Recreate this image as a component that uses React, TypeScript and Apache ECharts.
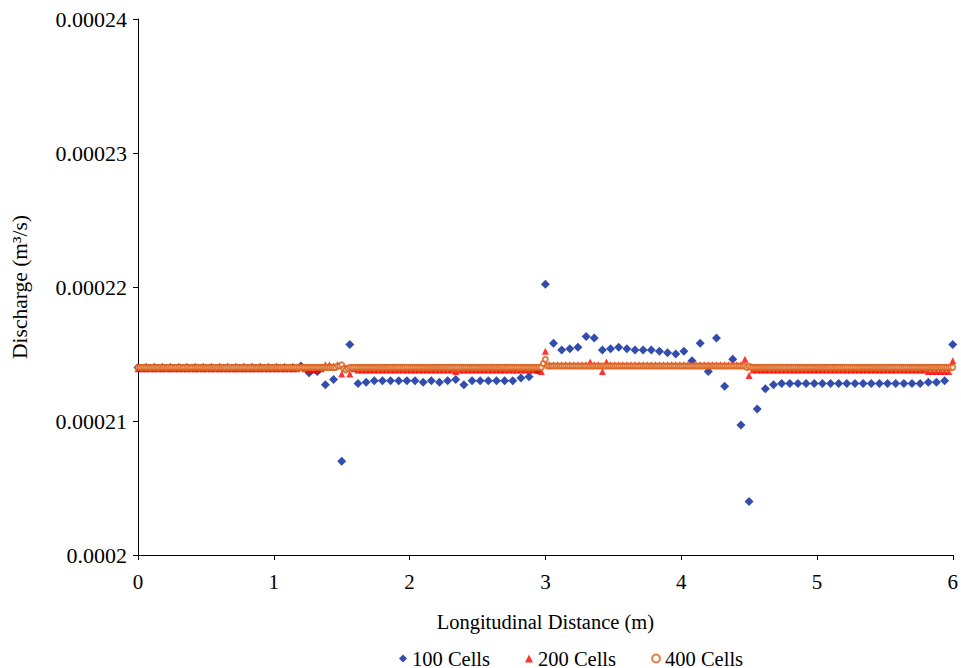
import React, { useEffect, useRef } from "react";
import * as echarts from "echarts";

// Channel length (m) and axis ranges
const channelLength = 6;
const xMin = 0;
const xMax = 6;
const xStep = 1;
const yMin = 0.0002;
const yMax = 0.00024;
const yStep = 0.00001;

const seriesNames = ["100 Cells", "200 Cells", "400 Cells"];
const seriesColors = ["#00209a", "#ff0000", "#d9621a"];

// Discharge (m3/s) at each node, 100-cell mesh (101 nodes)
const cells100: number[] = [
  0.000214, 0.000214, 0.000214, 0.000214, 0.000214, 0.000214, 0.000214, 0.000214, 0.000214, 0.000214,
  0.000214, 0.000214, 0.000214, 0.000214, 0.000214, 0.000214, 0.000214, 0.000214, 0.000214, 0.000214,
  0.0002141, 0.0002136, 0.0002137, 0.0002127, 0.0002131, 0.000207, 0.0002157, 0.0002128, 0.0002129, 0.000213,
  0.000213, 0.000213, 0.000213, 0.000213, 0.000213, 0.0002129, 0.000213, 0.0002129, 0.000213, 0.0002131,
  0.0002127, 0.000213, 0.000213, 0.000213, 0.000213, 0.000213, 0.000213, 0.0002132, 0.0002133, 0.0002138,
  0.0002202, 0.0002158, 0.0002153, 0.0002154, 0.0002155, 0.0002163, 0.0002162, 0.0002153, 0.0002154, 0.0002155,
  0.0002154, 0.0002153, 0.0002153, 0.0002153, 0.0002152, 0.0002151, 0.000215, 0.0002152, 0.0002145, 0.0002158,
  0.0002137, 0.0002162, 0.0002126, 0.0002146, 0.0002097, 0.000204, 0.0002109, 0.0002124, 0.0002127, 0.0002128,
  0.0002128, 0.0002128, 0.0002128, 0.0002128, 0.0002128, 0.0002128, 0.0002128, 0.0002128, 0.0002128, 0.0002128,
  0.0002128, 0.0002128, 0.0002128, 0.0002128, 0.0002128, 0.0002128, 0.0002128, 0.0002129, 0.0002129, 0.000213,
  0.0002157,
];

// 200-cell mesh (201 nodes)
const cells200: number[] = [
  0.0002139, 0.0002139, 0.0002139, 0.0002139, 0.0002139, 0.0002139, 0.0002139, 0.0002139, 0.0002139, 0.0002139,
  0.0002139, 0.0002139, 0.0002139, 0.0002139, 0.0002139, 0.0002139, 0.0002139, 0.0002139, 0.0002139, 0.0002139,
  0.0002139, 0.0002139, 0.0002139, 0.0002139, 0.0002139, 0.0002139, 0.0002139, 0.0002139, 0.0002139, 0.0002139,
  0.0002139, 0.0002139, 0.0002139, 0.0002139, 0.0002139, 0.0002139, 0.0002139, 0.0002139, 0.0002139, 0.0002139,
  0.000214, 0.0002139, 0.0002138, 0.0002138, 0.0002138, 0.0002139, 0.0002142, 0.0002142, 0.0002141, 0.0002142,
  0.0002135, 0.000214, 0.0002135, 0.0002139, 0.0002138, 0.0002138, 0.0002138, 0.0002138, 0.0002138, 0.0002138,
  0.0002138, 0.0002138, 0.0002138, 0.0002138, 0.0002138, 0.0002138, 0.0002138, 0.0002138, 0.0002138, 0.0002138,
  0.0002138, 0.0002138, 0.0002138, 0.0002138, 0.0002138, 0.0002138, 0.0002138, 0.0002138, 0.0002137, 0.0002138,
  0.0002138, 0.0002138, 0.0002138, 0.0002138, 0.0002138, 0.0002138, 0.0002138, 0.0002138, 0.0002138, 0.0002138,
  0.0002138, 0.0002138, 0.0002138, 0.0002138, 0.0002138, 0.0002138, 0.0002138, 0.0002138, 0.0002138, 0.0002137,
  0.0002152, 0.0002142, 0.0002142, 0.0002142, 0.0002142, 0.0002142, 0.0002142, 0.0002142, 0.0002142, 0.0002142,
  0.0002142, 0.0002144, 0.0002142, 0.0002142, 0.0002137, 0.0002144, 0.0002142, 0.0002142, 0.0002142, 0.0002142,
  0.0002142, 0.0002142, 0.0002142, 0.0002142, 0.0002142, 0.0002142, 0.0002142, 0.0002142, 0.0002142, 0.0002142,
  0.0002142, 0.0002142, 0.0002142, 0.0002142, 0.0002142, 0.0002142, 0.0002142, 0.0002142, 0.0002142, 0.0002142,
  0.0002142, 0.0002142, 0.0002142, 0.0002142, 0.0002142, 0.0002142, 0.0002142, 0.0002142, 0.0002142, 0.0002146,
  0.0002134, 0.0002138, 0.0002138, 0.0002138, 0.0002138, 0.0002138, 0.0002138, 0.0002138, 0.0002138, 0.0002138,
  0.0002138, 0.0002138, 0.0002138, 0.0002138, 0.0002138, 0.0002138, 0.0002138, 0.0002138, 0.0002138, 0.0002138,
  0.0002138, 0.0002138, 0.0002138, 0.0002138, 0.0002138, 0.0002138, 0.0002138, 0.0002138, 0.0002138, 0.0002138,
  0.0002138, 0.0002138, 0.0002138, 0.0002138, 0.0002138, 0.0002138, 0.0002138, 0.0002138, 0.0002138, 0.0002138,
  0.0002138, 0.0002138, 0.0002138, 0.0002138, 0.0002137, 0.0002137, 0.0002137, 0.0002137, 0.0002137, 0.0002137,
  0.0002145,
];

// 400-cell mesh (401 nodes)
const cells400: number[] = [
  0.000214, 0.000214, 0.000214, 0.000214, 0.000214, 0.000214, 0.000214, 0.000214, 0.000214, 0.000214,
  0.000214, 0.000214, 0.000214, 0.000214, 0.000214, 0.000214, 0.000214, 0.000214, 0.000214, 0.000214,
  0.000214, 0.000214, 0.000214, 0.000214, 0.000214, 0.000214, 0.000214, 0.000214, 0.000214, 0.000214,
  0.000214, 0.000214, 0.000214, 0.000214, 0.000214, 0.000214, 0.000214, 0.000214, 0.000214, 0.000214,
  0.000214, 0.000214, 0.000214, 0.000214, 0.000214, 0.000214, 0.000214, 0.000214, 0.000214, 0.000214,
  0.000214, 0.000214, 0.000214, 0.000214, 0.000214, 0.000214, 0.000214, 0.000214, 0.000214, 0.000214,
  0.000214, 0.000214, 0.000214, 0.000214, 0.000214, 0.000214, 0.000214, 0.000214, 0.000214, 0.000214,
  0.000214, 0.000214, 0.000214, 0.000214, 0.000214, 0.000214, 0.000214, 0.000214, 0.000214, 0.000214,
  0.000214, 0.000214, 0.000214, 0.000214, 0.000214, 0.000214, 0.000214, 0.000214, 0.000214, 0.000214,
  0.000214, 0.000214, 0.000214, 0.000214, 0.000214, 0.000214, 0.000214, 0.000214, 0.0002141, 0.0002141,
  0.0002142, 0.0002139, 0.0002138, 0.0002139, 0.000214, 0.000214, 0.000214, 0.000214, 0.000214, 0.000214,
  0.000214, 0.000214, 0.000214, 0.000214, 0.000214, 0.000214, 0.000214, 0.000214, 0.000214, 0.000214,
  0.000214, 0.000214, 0.000214, 0.000214, 0.000214, 0.000214, 0.000214, 0.000214, 0.000214, 0.000214,
  0.000214, 0.000214, 0.000214, 0.000214, 0.000214, 0.000214, 0.000214, 0.000214, 0.000214, 0.000214,
  0.000214, 0.000214, 0.000214, 0.000214, 0.000214, 0.000214, 0.000214, 0.000214, 0.000214, 0.000214,
  0.000214, 0.000214, 0.000214, 0.000214, 0.000214, 0.000214, 0.000214, 0.000214, 0.000214, 0.000214,
  0.000214, 0.000214, 0.000214, 0.000214, 0.000214, 0.000214, 0.000214, 0.000214, 0.000214, 0.000214,
  0.000214, 0.000214, 0.000214, 0.000214, 0.000214, 0.000214, 0.000214, 0.000214, 0.000214, 0.000214,
  0.000214, 0.000214, 0.000214, 0.000214, 0.000214, 0.000214, 0.000214, 0.000214, 0.000214, 0.000214,
  0.000214, 0.000214, 0.000214, 0.000214, 0.000214, 0.000214, 0.000214, 0.000214, 0.000214, 0.0002143,
  0.0002146, 0.0002141, 0.0002141, 0.0002141, 0.0002141, 0.0002141, 0.0002141, 0.0002141, 0.0002141, 0.0002141,
  0.0002141, 0.0002141, 0.0002141, 0.0002141, 0.0002141, 0.0002141, 0.0002141, 0.0002141, 0.0002141, 0.0002141,
  0.0002141, 0.0002141, 0.0002141, 0.0002141, 0.0002141, 0.0002141, 0.0002141, 0.0002141, 0.0002141, 0.0002141,
  0.0002141, 0.0002141, 0.0002141, 0.0002141, 0.0002141, 0.0002141, 0.0002141, 0.0002141, 0.0002141, 0.0002141,
  0.0002141, 0.0002141, 0.0002141, 0.0002141, 0.0002141, 0.0002141, 0.0002141, 0.0002141, 0.0002141, 0.0002141,
  0.0002141, 0.0002141, 0.0002141, 0.0002141, 0.0002141, 0.0002141, 0.0002141, 0.0002141, 0.0002141, 0.0002141,
  0.0002141, 0.0002141, 0.0002141, 0.0002141, 0.0002141, 0.0002141, 0.0002141, 0.0002141, 0.0002141, 0.0002141,
  0.0002141, 0.0002141, 0.0002141, 0.0002141, 0.0002141, 0.0002141, 0.0002141, 0.0002141, 0.0002141, 0.0002141,
  0.0002141, 0.0002141, 0.0002141, 0.0002141, 0.0002141, 0.0002141, 0.0002141, 0.0002141, 0.0002141, 0.0002141,
  0.0002141, 0.0002141, 0.0002141, 0.0002141, 0.0002141, 0.0002141, 0.0002141, 0.0002141, 0.0002141, 0.000214,
  0.0002141, 0.000214, 0.000214, 0.000214, 0.000214, 0.000214, 0.000214, 0.000214, 0.000214, 0.000214,
  0.000214, 0.000214, 0.000214, 0.000214, 0.000214, 0.000214, 0.000214, 0.000214, 0.000214, 0.000214,
  0.000214, 0.000214, 0.000214, 0.000214, 0.000214, 0.000214, 0.000214, 0.000214, 0.000214, 0.000214,
  0.000214, 0.000214, 0.000214, 0.000214, 0.000214, 0.000214, 0.000214, 0.000214, 0.000214, 0.000214,
  0.000214, 0.000214, 0.000214, 0.000214, 0.000214, 0.000214, 0.000214, 0.000214, 0.000214, 0.000214,
  0.000214, 0.000214, 0.000214, 0.000214, 0.000214, 0.000214, 0.000214, 0.000214, 0.000214, 0.000214,
  0.000214, 0.000214, 0.000214, 0.000214, 0.000214, 0.000214, 0.000214, 0.000214, 0.000214, 0.000214,
  0.000214, 0.000214, 0.000214, 0.000214, 0.000214, 0.000214, 0.000214, 0.000214, 0.000214, 0.000214,
  0.000214, 0.000214, 0.000214, 0.000214, 0.000214, 0.000214, 0.000214, 0.000214, 0.000214, 0.000214,
  0.000214, 0.000214, 0.000214, 0.000214, 0.000214, 0.000214, 0.000214, 0.000214, 0.000214, 0.000214,
  0.000214,
];

const FONT = "'Times New Roman', 'Liberation Serif', serif";

// Pair each discharge with its node position along the channel
const toPoints = (values: number[]) =>
  values.map((q, i) => [(i * channelLength) / (values.length - 1), q]);

export default function App() {
  const ref = useRef<HTMLDivElement>(null);

  useEffect(() => {
    if (!ref.current) return;
    const chart = echarts.init(ref.current, undefined, { renderer: "svg" });
    const axisText = { color: "#000", fontFamily: FONT, fontSize: 20 };
    chart.setOption({
      animation: false,
      backgroundColor: "#fff",
      grid: { left: 138, right: 3, top: 19, bottom: 113, containLabel: false },
      legend: {
        data: seriesNames,
        left: 399,
        top: 648,
        padding: 0,
        itemWidth: 8,
        itemHeight: 8,
        itemGap: 35,
        textStyle: { ...axisText, fontSize: 20.5, lineHeight: 20 },
      },
      xAxis: {
        type: "value",
        min: xMin,
        max: xMax,
        interval: xStep,
        name: "Longitudinal Distance (m)",
        nameLocation: "middle",
        nameGap: 56,
        nameTextStyle: { ...axisText, fontSize: 20.5 },
        splitLine: { show: false },
        axisLine: { lineStyle: { color: "#000", width: 1 } },
        axisTick: { length: 5, lineStyle: { color: "#000" } },
        axisLabel: { ...axisText, fontSize: 21, margin: 16 },
      },
      yAxis: {
        type: "value",
        min: yMin,
        max: yMax,
        interval: yStep,
        name: "Discharge (m³/s)",
        nameLocation: "middle",
        nameGap: 107,
        nameTextStyle: { ...axisText, fontSize: 21.5 },
        splitLine: { show: false },
        axisLine: { show: true, lineStyle: { color: "#000", width: 1 } },
        axisTick: { show: true, length: 5, lineStyle: { color: "#000" } },
        axisLabel: {
          ...axisText,
          fontSize: 22,
          margin: 11,
          formatter: (v: number) => String(Number(v.toFixed(5))),
        },
      },
      series: [
        {
          name: seriesNames[0],
          type: "scatter",
          symbol: "diamond",
          symbolSize: 9,
          itemStyle: { color: seriesColors[0] },
          data: toPoints(cells100),
        },
        {
          name: seriesNames[1],
          type: "scatter",
          symbol: "triangle",
          symbolSize: 7,
          itemStyle: { color: seriesColors[1] },
          data: toPoints(cells200),
        },
        {
          name: seriesNames[2],
          type: "scatter",
          symbol: "emptyCircle",
          symbolSize: 5,
          itemStyle: { color: seriesColors[2], borderWidth: 1.2 },
          data: toPoints(cells400),
        },
      ],
    });
    return () => chart.dispose();
  }, []);

  return (
    <div
      ref={ref}
      style={{ position: "fixed", left: 0, top: 0, width: 961, height: 668, background: "#fff" }}
    />
  );
}
